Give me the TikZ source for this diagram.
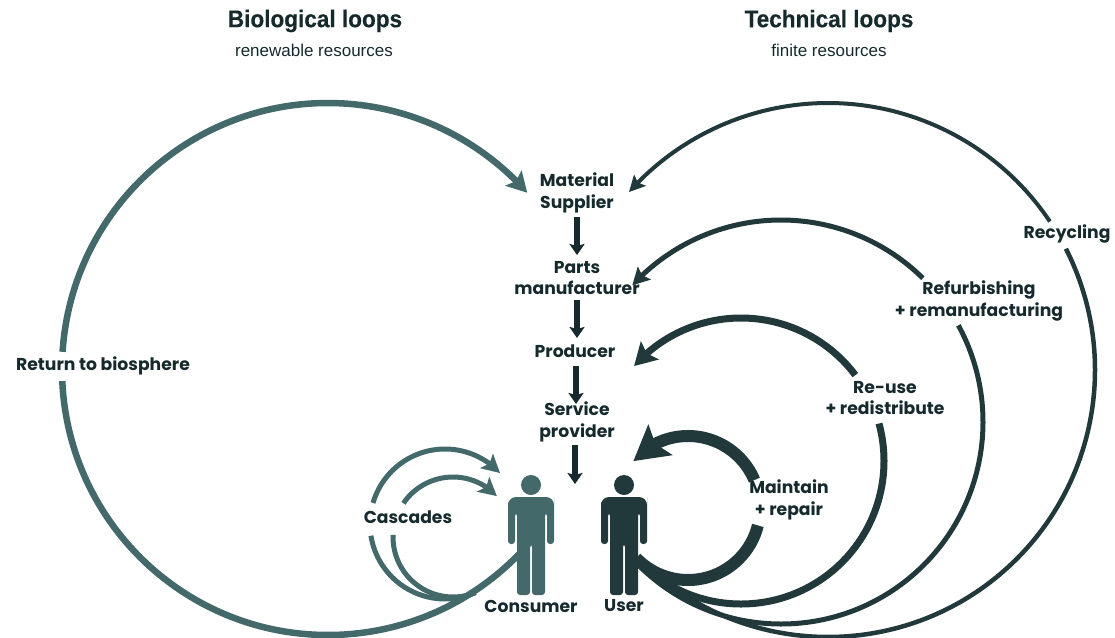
\documentclass[tikz,border=0pt]{standalone}
\usepackage{fontspec}
\setmainfont{Poppins}
\newfontfamily\headfont{Liberation Sans}
\newfontfamily\titlefont[FakeStretch=0.94,BoldFeatures={FakeStretch=0.94,FakeBold=0.4}]{Liberation Sans}
\usetikzlibrary{arrows.meta,bending}
\definecolor{bio}{HTML}{43696B}
\definecolor{tech}{HTML}{22393B}
\definecolor{ink}{HTML}{16292C}
\tikzset{
  x=1pt,y=-1pt,
  lbl/.style={text=ink,font=\fontsize{17.2}{21.5}\selectfont\bfseries,align=center,inner sep=0pt},
  title/.style={text=ink,font=\fontsize{24}{28}\selectfont\titlefont\bfseries,inner sep=0pt},
  sub/.style={text=ink,font=\fontsize{17}{20}\selectfont\headfont,inner sep=0pt},
  flow/.style={draw=ink,line width=5.5pt,-{Stealth[length=11pt,width=15pt,inset=2pt]}},
  loopbio/.style={draw=bio,line cap=butt},
  looptech/.style={draw=tech,line cap=butt},
  pics/person/.style={code={
    \fill[#1] (0,-20) circle (10);
    \fill[#1,rounded corners=3pt]
      (-23,0) [rounded corners=8pt] -- (-23,-8) -- (23,-8) -- (23,0) [rounded corners=3pt] -- (23,39) -- (16,39) -- (16,8) -- (14,8) -- (14,90) -- (1,90) -- (1,39) -- (-1,39) -- (-1,90) -- (-14,90) -- (-14,8) -- (-16,8) -- (-16,39) -- (-23,39) -- cycle;
  }}
}
\begin{document}
\begin{tikzpicture}
\useasboundingbox (0,0) rectangle (1115,637);
% text
\node[title] (bioT) at (315,21) {Biological loops};
\node[sub] (bioS) at (314,50) {renewable resources};
\node[title] (techT) at (829,21) {Technical loops};
\node[sub] (techS) at (829,50) {finite resources};
\node[lbl] (supplier) at (577,193) {Material\\Supplier};
\node[lbl] (parts) at (577,278) {Parts\\manufacturer};
\node[lbl] (producer) at (575,351) {Producer};
\node[lbl] (service) at (577,422) {Service\\provider};
\node[lbl] (consumer) at (531,606) {Consumer};
\node[lbl] (user) at (624,606) {User};
\node[lbl] (cascades) at (408,517) {Cascades};
\node[lbl] (biosphere) at (103,366) {Return to biosphere};
\node[lbl] (recycling) at (1067,234) {Recycling};
\node[lbl] (refurb) at (979,301) {Refurbishing\\+ remanufacturing};
\node[lbl] (reuse) at (885,398) {Re-use\\+ redistribute};
\node[lbl] (maintain) at (789,500) {Maintain\\+ repair};
% centres of the loops
\coordinate (cBio) at (328,369);
\coordinate (cCasA) at (445,524);
\coordinate (cCasB) at (453,537);
\coordinate (cRec) at (828,370);
\coordinate (cRef) at (781,422);
\coordinate (cReu) at (741,461);
\coordinate (cMai) at (688,508);
% straight flow
\coordinate (f1a) at (577,217); \coordinate (f1b) at (577,255);
\coordinate (f2a) at (577,300); \coordinate (f2b) at (577,338);
\coordinate (f3a) at (576,366); \coordinate (f3b) at (576,404);
\coordinate (f4a) at (575,445); \coordinate (f4b) at (575,484);
\draw[flow] (f1a) -- (f1b);
\draw[flow] (f2a) -- (f2b);
\draw[flow] (f3a) -- (f3b);
\draw[flow] (f4a) -- (f4b);
% cascades
\draw[loopbio,line width=5pt] (cCasA) ++(66:75) arc[start angle=66,end angle=171,radius=75];
\draw[loopbio,line width=5pt] (cCasB) ++(68:60) arc[start angle=68,end angle=182,radius=60];
\draw[loopbio,line width=5pt,-{Stealth[length=18pt,width=19pt,inset=4pt]}]
  (cCasA) ++(196.3:75) arc[start angle=196.3,end angle=317.2,radius=75];
\draw[loopbio,line width=5pt,-{Stealth[length=18pt,width=19pt,inset=4pt]}]
  (cCasB) ++(214.2:60) arc[start angle=214.2,end angle=317,radius=60];
% biological
\draw[loopbio,line width=6.5pt] (cBio) ++(177.4:266) arc[start angle=177.4,end angle=41,radius=266];
\draw[loopbio,line width=6.5pt,-{Stealth[length=20pt,width=22pt,inset=4pt]}]
  (cBio) ++(183.7:266) arc[start angle=183.7,end angle=318.5,radius=266];
% technical
\draw[looptech,line width=4.5pt] (cRec) ++(134.7:267) arc[start angle=134.7,end angle=-27,radius=267];
\draw[looptech,line width=4pt,-{Stealth[length=16pt,width=16pt,inset=3pt]}]
  (cRec) ++(-33.8:267) arc[start angle=-33.8,end angle=-138.2,radius=267];
\draw[looptech,line width=5pt] (cRef) ++(135:202) arc[start angle=135,end angle=-28.6,radius=202];
\draw[looptech,line width=5pt,-{Stealth[length=17pt,width=18pt,inset=3pt]}]
  (cRef) ++(-45.4:202) arc[start angle=-45.4,end angle=-137.4,radius=202];
\draw[looptech,line width=7pt] (cReu) ++(135:143) arc[start angle=135,end angle=-15.2,radius=143];
\draw[looptech,line width=7pt,-{Stealth[length=22pt,width=25pt,inset=4pt]}]
  (cReu) ++(-36.9:143) arc[start angle=-36.9,end angle=-138.4,radius=143];
\draw[looptech,line width=12pt] (cMai) ++(136:72) arc[start angle=136,end angle=14,radius=72];
\draw[looptech,line width=12pt,-{Stealth[length=34pt,width=38pt,inset=6pt]}]
  (cMai) ++(-22.8:72) arc[start angle=-22.8,end angle=-139.4,radius=72];
% people, over the ends of the loops
\pic at (531,505) {person=bio};
\pic at (624,505) {person=tech};
\end{tikzpicture}
\end{document}
